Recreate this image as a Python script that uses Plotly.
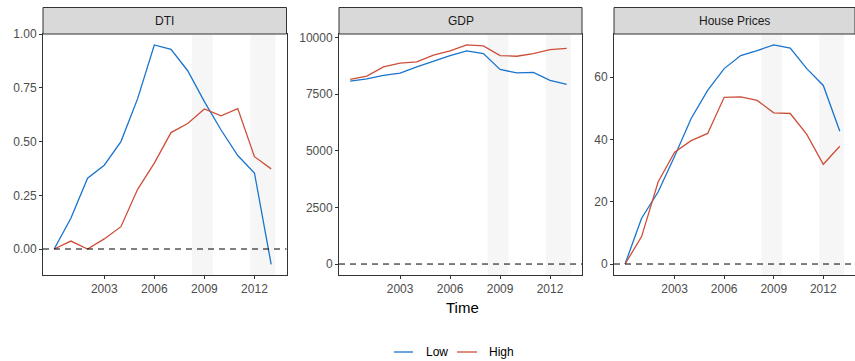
import plotly.graph_objects as go

W, H = 855, 361

years = list(range(2000, 2014))

dti_low = [0.0, 0.143, 0.33, 0.39, 0.50, 0.70, 0.95, 0.93, 0.83, 0.686, 0.554, 0.435, 0.354, -0.071]
dti_high = [0.0, 0.037, 0.0, 0.047, 0.104, 0.278, 0.40, 0.542, 0.584, 0.652, 0.62, 0.654, 0.43, 0.373]

gdp_low = [8082, 8184, 8331, 8433, 8712, 8975, 9209, 9414, 9297, 8594, 8448, 8463, 8111, 7936]
gdp_high = [8155, 8302, 8712, 8873, 8931, 9224, 9414, 9678, 9634, 9209, 9180, 9297, 9473, 9531]

hp_low = [0.0, 14.7, 23.1, 34.6, 46.7, 55.7, 62.7, 66.9, 68.5, 70.3, 69.3, 62.7, 57.3, 42.6]
hp_high = [0.0, 8.8, 26.3, 35.9, 39.6, 41.9, 53.5, 53.6, 52.5, 48.5, 48.3, 41.6, 32.0, 37.8]

panel_titles = ["DTI", "GDP", "House Prices"]
series_names = ["Low", "High"]
recessions = [(2008.25, 2009.5), (2011.75, 2013.25)]

x_ticks = [2003, 2006, 2009, 2012]
y_ticks = [
    [0.0, 0.25, 0.5, 0.75, 1.0],
    [0, 2500, 5000, 7500, 10000],
    [0, 20, 40, 60],
]
y_formats = [".2f", "d", "d"]
y_ranges = [[-0.121, 1.001], [-484, 10162], [-3.52, 73.8]]
x_range = [1999.33, 2013.92]

COL_LOW = "#1874CD"
COL_HIGH = "#CD4F39"
colors = [COL_LOW, COL_HIGH]
AXIS = "#333333"
TICKTXT = "#4D4D4D"

# pixel layout of the three panels
px_x = [(43, 286.5), (339, 582), (614, 855)]
py_top, py_bottom, strip_top = 34, 275, 7.5


def fx(p):
    return p / W


def fy(p):
    return 1 - p / H


fig = go.Figure()
data = [(dti_low, dti_high), (gdp_low, gdp_high), (hp_low, hp_high)]

for i, pair in enumerate(data):
    n = "" if i == 0 else str(i + 1)
    xa, ya = "x" + n, "y" + n
    for vals, name, col in zip(pair, series_names, colors):
        fig.add_trace(go.Scatter(
            x=years, y=vals, mode="lines", name=name,
            line=dict(color=col, width=1.3),
            xaxis=xa, yaxis=ya, showlegend=False,
        ))

    x0, x1 = px_x[i]
    fig.layout["xaxis" + n] = dict(
        domain=[fx(x0), fx(x1)], range=x_range, anchor=ya,
        tickvals=x_ticks, ticks="outside", ticklen=3, tickcolor=AXIS,
        showline=True, linecolor=AXIS, linewidth=1, mirror=True,
        showgrid=False, zeroline=False,
        tickfont=dict(size=12, color=TICKTXT),
    )
    fig.layout["yaxis" + n] = dict(
        domain=[fy(py_bottom), fy(py_top)], range=y_ranges[i], anchor=xa,
        tickvals=y_ticks[i], tickformat=y_formats[i],
        ticks="outside", ticklen=3, tickcolor=AXIS,
        showline=True, linecolor=AXIS, linewidth=1, mirror=True,
        showgrid=False, zeroline=False,
        tickfont=dict(size=12, color=TICKTXT),
    )

    # shaded recession periods
    for r0, r1 in recessions:
        fig.add_shape(type="rect", xref=xa, yref=ya + " domain",
                      x0=r0, x1=r1, y0=0, y1=1,
                      fillcolor="#F6F6F6", line=dict(width=0), layer="below")

    # zero reference line
    fig.add_shape(type="line", xref=xa + " domain", yref=ya,
                  x0=0, x1=1, y0=0, y1=0,
                  line=dict(color="black", width=1, dash="6px,5px"))

    # facet strip
    fig.add_shape(type="rect", xref="paper", yref="paper",
                  x0=fx(x0), x1=fx(x1), y0=fy(py_top), y1=fy(strip_top),
                  fillcolor="#D9D9D9", line=dict(color=AXIS, width=1))
    fig.add_annotation(xref="paper", yref="paper",
                       x=(fx(x0) + fx(x1)) / 2, y=(fy(py_top) + fy(strip_top)) / 2,
                       text=panel_titles[i], showarrow=False,
                       font=dict(size=12, color="#1A1A1A"),
                       xanchor="center", yanchor="middle")

fig.add_annotation(xref="paper", yref="paper", x=fx(462.5), y=fy(307),
                   text="Time", showarrow=False, font=dict(size=15, color="black"),
                   xanchor="center", yanchor="middle")

# legend: short line keys with labels, centred below the panels
legend_keys = [(394, 413, 424), (457, 477, 487)]
for (k0, k1, tx), name, col in zip(legend_keys, series_names, colors):
    fig.add_shape(type="line", xref="paper", yref="paper",
                  x0=fx(k0), x1=fx(k1), y0=fy(352), y1=fy(352),
                  line=dict(color=col, width=1.3))
    fig.add_annotation(xref="paper", yref="paper", x=fx(tx), y=fy(352),
                       text=name, showarrow=False,
                       font=dict(size=12, color="black"),
                       xanchor="left", yanchor="middle")

fig.update_layout(
    width=W, height=H,
    margin=dict(l=0, r=0, t=0, b=0, autoexpand=False),
    paper_bgcolor="white", plot_bgcolor="white",
    font=dict(family="Liberation Sans, Arial, sans-serif"),
    showlegend=False,
)

fig.write_html("out.html")
